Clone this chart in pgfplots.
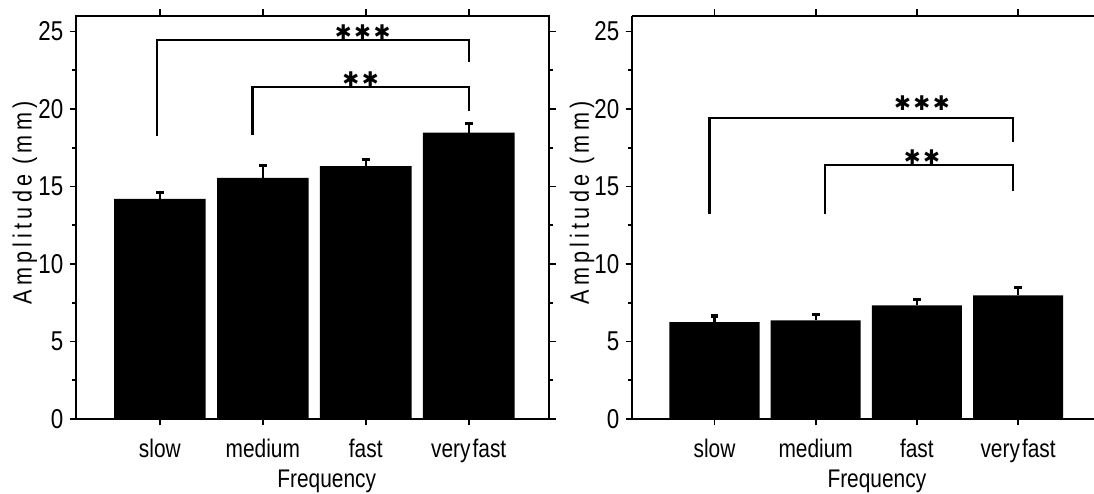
\documentclass[border=0pt]{standalone}
\usepackage{pgfplots}
\usepackage{pgfplotstable}
\pgfplotsset{compat=1.18}
\usepackage{fontspec}
\setmainfont[FakeStretch=0.82]{Liberation Sans}
\newfontfamily\starfont{DejaVu Sans}

\pgfplotstableread{
x y e
0 14.20 0.39
1 15.56 0.81
2 16.31 0.45
3 18.47 0.58
}\dataA
\pgfplotstableread{
x y e
0 6.25 0.39
1 6.36 0.39
2 7.33 0.36
3 7.97 0.53
}\dataB

\pgfplotsset{
 panel/.style={
  scale only axis, height=8.06cm,
  ymin=0, ymax=26, xmin=-0.815,
  ytick={0,5,...,25}, minor ytick={2.5,7.5,...,22.5},
  xtick={0,1,2,3}, xticklabels={slow,medium,fast,very\hspace{0.08em}fast},
  tick align=outside, major tick length=0.13cm, minor tick length=0.08cm,
  every tick/.style={black, line width=1.1pt},
  axis line style={line width=1.4pt},
  /pgf/number format/assume math mode=true,
  yticklabel style={font=\fontsize{15.5}{17}\selectfont},
  xticklabel style={font=\fontsize{14.5}{16}\selectfont, yshift=-0.15cm},
  xlabel={Frequency},
  xlabel style={font=\fontsize{14.5}{16}\selectfont, at={(axis description cs:0.53,-0.155)}, anchor=center},
  ylabel={\addfontfeature{LetterSpace=16}Amplitude (mm)},
  ylabel style={font=\fontsize{15}{17}\selectfont, at={(axis description cs:-0.108,0.536)}, anchor=center},
 },
 bars/.style={ybar, bar width=0.89, fill=black, draw=none,
  error bars/.cd, y dir=plus, y explicit,
  error bar style={line width=1.3pt, black},
  error mark options={rotate=90, mark size=2.2pt, line width=1.8pt, black}},
}
\tikzset{
 bracket/.style={line width=1.3pt, black},
 stars/.style={font=\starfont\fontsize{11.5}{13}\selectfont, anchor=south, inner sep=0pt, yshift=0pt},
}

\begin{document}
\begin{tikzpicture}
\begin{axis}[panel, at={(1.52cm,1.50cm)}, anchor=south west, width=9.46cm, xmax=3.78]
\addplot[bars] table[x=x, y=y, y error=e]{\dataA};
\draw[bracket] (axis cs:-0.03,18.25) |- (axis cs:3,24.45) -- (axis cs:3,23.0);
\draw[bracket] (axis cs:0.9,18.3) |- (axis cs:3,21.44) -- (axis cs:3,19.86);
\node[stars] at (axis cs:1.97,24.45) {✱\hspace{0.12em}✱\hspace{0.12em}✱};
\node[stars] at (axis cs:1.95,21.44) {✱\hspace{0.12em}✱};
\end{axis}
\begin{axis}[panel, at={(12.64cm,1.50cm)}, anchor=south west, width=9.24cm, xmax=3.75,
  axis x line*=box, axis y line*=left]
\addplot[bars] table[x=x, y=y, y error=e]{\dataB};
\draw[bracket] (axis cs:-0.05,13.23) |- (axis cs:2.95,19.42) -- (axis cs:2.95,17.85);
\draw[bracket] (axis cs:1.09,13.23) |- (axis cs:2.95,16.39) -- (axis cs:2.95,14.74);
\node[stars] at (axis cs:2.05,19.9) {✱\hspace{0.12em}✱\hspace{0.12em}✱};
\node[stars] at (axis cs:2.05,16.39) {✱\hspace{0.12em}✱};
\end{axis}
\pgfresetboundingbox
\path[use as bounding box] (0,0) rectangle (21.88cm,9.88cm);
\end{tikzpicture}
\end{document}
